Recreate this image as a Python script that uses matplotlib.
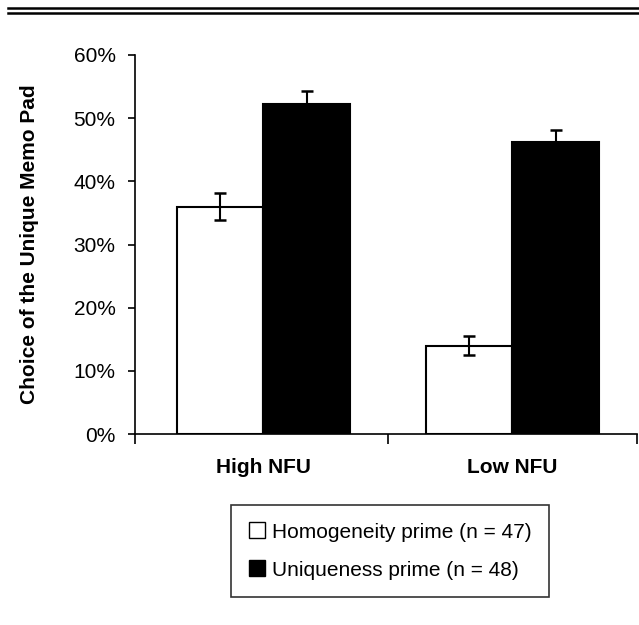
import matplotlib.pyplot as plt
import numpy as np
from matplotlib.lines import Line2D

plt.rcParams['font.family'] = ['Liberation Sans', 'DejaVu Sans']

groups = ['High NFU', 'Low NFU']
homog = [36, 14]
homog_err = [2.1, 1.5]
uniq = [52.2, 46.3]
uniq_err = [2.1, 1.9]
series_labels = ['Homogeneity prime (n = 47)', 'Uniqueness prime (n = 48)']

fig = plt.figure(figsize=(6.39, 6.25), dpi=100)
ax = fig.add_axes([135 / 639, 1 - 434 / 625, (637 - 135) / 639, (434 - 55) / 625])

x = np.arange(len(groups))
w = 0.348
ax.bar(x - w / 2, homog, w, color='white', edgecolor='black', linewidth=1.5, zorder=2)
ax.bar(x + w / 2, uniq, w, color='black', edgecolor='black', linewidth=1.5, zorder=2)
ax.errorbar(x - w / 2, homog, yerr=homog_err, fmt='none', ecolor='black',
            elinewidth=1.5, capsize=4.5, capthick=1.8, zorder=3)
ax.errorbar(x + w / 2, uniq, yerr=uniq_err, fmt='none', ecolor='black',
            elinewidth=1.5, capsize=4.5, capthick=1.8, zorder=3)

ax.set_xlim(-0.515, 1.5)
ax.set_ylim(0, 60)
ax.set_yticks(range(0, 61, 10))
ax.set_yticklabels([f'{v}%' for v in range(0, 61, 10)], fontsize=15)
ax.set_xticks([-0.515, 0.5, 1.5])
ax.set_xticklabels([])
ax.set_xticks(x, minor=True)
ax.set_xticklabels(groups, minor=True, fontsize=15, fontweight='bold')
ax.tick_params(axis='x', which='minor', length=0, pad=17)
ax.tick_params(axis='x', which='major', length=7, width=1.2, direction='out')
ax.tick_params(axis='y', length=5, width=1.2, direction='out', pad=9)
for s in ['top', 'right']:
    ax.spines[s].set_visible(False)
for s in ['left', 'bottom']:
    ax.spines[s].set_linewidth(1.2)
ax.set_ylabel('Choice of the Unique Memo Pad', fontsize=15, fontweight='bold', labelpad=25)

handles = [plt.Rectangle((0, 0), 1, 1, facecolor='white', edgecolor='black', linewidth=1),
           plt.Rectangle((0, 0), 1, 1, facecolor='black', edgecolor='black', linewidth=1)]
leg = fig.legend(handles, series_labels, loc='center', bbox_to_anchor=(390 / 639, 1 - 551 / 625),
                 fontsize=15, frameon=True, fancybox=False, edgecolor='black',
                 handlelength=0.8, handleheight=0.8, handletextpad=0.3,
                 borderpad=0.85, labelspacing=0.9, borderaxespad=0)
leg.get_frame().set_linewidth(1.2)

fig.add_artist(Line2D([8 / 639, 1], [1 - 8 / 625, 1 - 8 / 625], color='black', linewidth=1.8))
fig.add_artist(Line2D([8 / 639, 1], [1 - 12.5 / 625, 1 - 12.5 / 625], color='black', linewidth=1.8))

fig.savefig('out.png', dpi=100)
